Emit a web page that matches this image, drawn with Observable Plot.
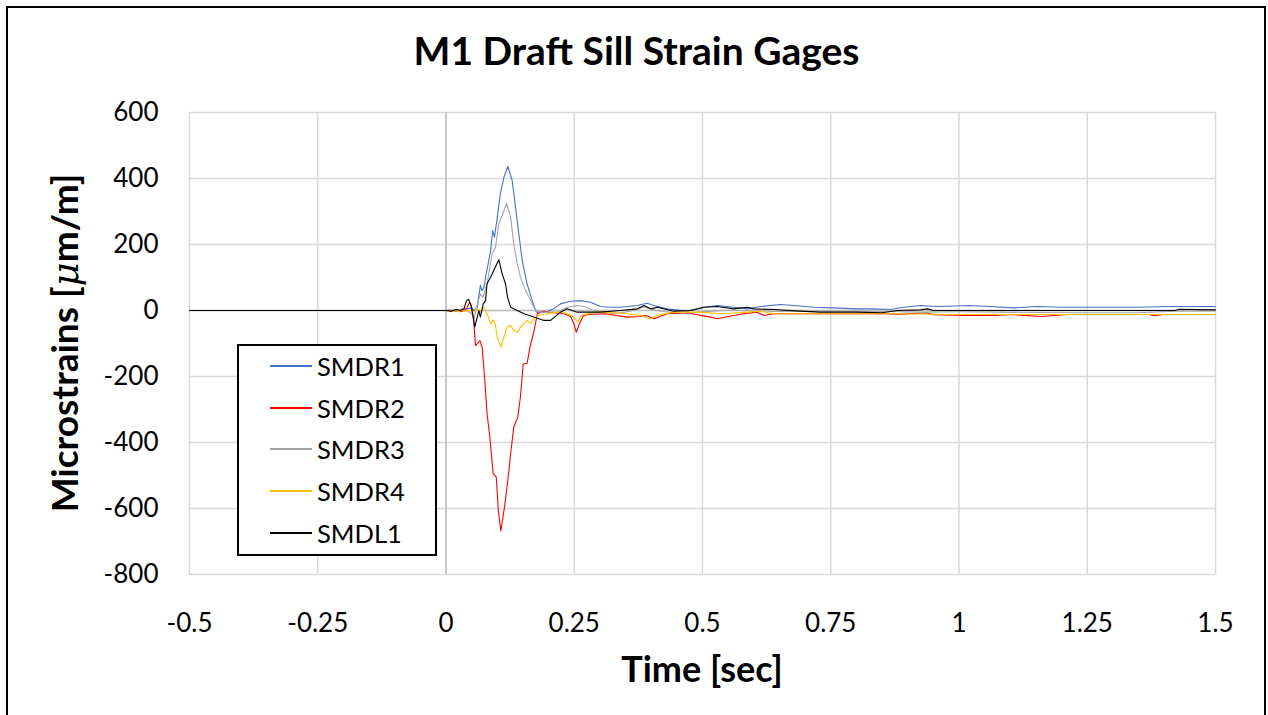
<!DOCTYPE html>
<html>
<head>
<meta charset="utf-8">
<script src="https://cdn.jsdelivr.net/npm/d3@7"></script>
<script src="https://cdn.jsdelivr.net/npm/@observablehq/plot@0.6"></script>
<style>
  html, body { margin: 0; padding: 0; background: #fff; }
  body { width: 1268px; height: 715px; overflow: hidden; position: relative; font-family: Lato, "Liberation Sans", sans-serif; }
  #frame { position: absolute; left: 6px; top: 6px; width: 1256px; height: 740px; border: 2px solid #000; box-sizing: content-box; }
  #title { position: absolute; left: 0; top: 27px; width: 1273px; text-align: center; font-weight: 700; font-size: 39px; line-height: 46px; color: #000; }
  #chart { position: absolute; left: 0; top: 90px; }
  #xlabel { position: absolute; left: 0; width: 1404px; top: 646px; text-align: center; font-weight: 700; font-size: 36px; line-height: 44px; }
  #ylabel { position: absolute; width: 500px; left: -186px; top: 321px; text-align: center; font-weight: 700; font-size: 37px; line-height: 44px; transform: rotate(-90deg); transform-origin: 250px 22px; white-space: nowrap; }
  #legend { position: absolute; left: 237px; top: 344px; width: 196px; height: 208px; border: 2px solid #000; background: #fff; }
  .row { position: absolute; left: 0; height: 30px; display: flex; align-items: center; }
  .row .sw { width: 42px; height: 2px; margin-left: 31px; margin-right: 5px; }
  .row span { font-size: 25.5px; color: #000; }
</style>
</head>
<body>
<div id="frame"></div>
<div id="title">M1 Draft Sill Strain Gages</div>
<div id="chart"></div>
<div id="xlabel">Time [sec]</div>
<div id="ylabel">Microstrains [<i style="font-family:'DejaVu Serif',serif;font-weight:400">μ</i>m/m]</div>
<div id="legend"></div>
<script>
const seriesNames = ["SMDR1", "SMDR2", "SMDR3", "SMDR4", "SMDL1"];
const seriesColors = ["#4472c4", "#ff0000", "#a5a5a5", "#ffc000", "#000000"];
const xTicks = [-0.5, -0.25, 0, 0.25, 0.5, 0.75, 1, 1.25, 1.5];
const yTicks = [-800, -600, -400, -200, 0, 200, 400, 600];

// [time (s), microstrain]
const smdr1 = [[-0.5,0],[0,0],[0.01,3],[0.02,-3],[0.03,4],[0.04,5],[0.05,8],[0.055,0],[0.061,10],[0.067,76],[0.070,60],[0.074,70],[0.077,100],[0.082,140],[0.087,182],[0.091,242],[0.0945,222],[0.100,283],[0.106,354],[0.113,404],[0.1205,437],[0.129,394],[0.1355,313],[0.142,232],[0.1485,152],[0.158,81],[0.168,30],[0.176,-5],[0.187,-5],[0.197,-3],[0.21,5],[0.223,20],[0.243,28],[0.262,30],[0.282,25],[0.301,12],[0.32,10],[0.34,10],[0.373,15],[0.392,22],[0.405,15],[0.431,5],[0.47,-2],[0.503,10],[0.529,15],[0.561,10],[0.587,5],[0.613,12],[0.652,18],[0.678,15],[0.717,10],[0.756,8],[0.80,5],[0.83,5],[0.866,3],[0.892,10],[0.925,15],[0.958,12],[1.022,15],[1.06,12],[1.107,8],[1.152,12],[1.20,10],[1.347,10],[1.412,12],[1.5,12]];
const smdr2 = [[-0.5,0],[0,0],[0.01,-2],[0.02,3],[0.03,-3],[0.04,5],[0.046,25],[0.05,10],[0.054,-30],[0.0575,-106],[0.061,-101],[0.066,-91],[0.0705,-111],[0.0757,-212],[0.080,-313],[0.0855,-384],[0.092,-495],[0.098,-505],[0.102,-606],[0.107,-668],[0.114,-596],[0.1205,-515],[0.126,-434],[0.132,-354],[0.14,-323],[0.145,-263],[0.1505,-162],[0.158,-160],[0.165,-101],[0.171,-66],[0.178,-10],[0.19,-2],[0.2,-5],[0.23,-10],[0.243,-18],[0.249,-40],[0.254,-66],[0.26,-40],[0.268,-15],[0.28,-12],[0.31,-10],[0.353,-20],[0.379,-18],[0.39,-15],[0.405,-25],[0.431,-10],[0.45,-8],[0.48,-10],[0.516,-20],[0.529,-25],[0.55,-18],[0.58,-10],[0.606,-5],[0.62,-15],[0.64,-10],[0.70,-10],[0.86,-10],[0.88,-12],[0.938,-7],[0.95,-13],[1.01,-15],[1.07,-15],[1.1,-12],[1.16,-18],[1.21,-12],[1.29,-12],[1.37,-12],[1.38,-16],[1.4,-12],[1.5,-12]];
const smdr3 = [[-0.5,0],[0,0],[0.01,2],[0.02,-2],[0.03,3],[0.04,0],[0.05,-10],[0.055,-25],[0.061,20],[0.067,50],[0.072,40],[0.080,81],[0.090,172],[0.0965,192],[0.103,263],[0.1095,288],[0.118,325],[0.126,283],[0.132,202],[0.139,141],[0.145,101],[0.155,61],[0.165,30],[0.1745,0],[0.184,-5],[0.217,-5],[0.236,10],[0.256,15],[0.27,12],[0.288,0],[0.327,-10],[0.35,-5],[0.386,10],[0.42,-3],[0.46,-8],[0.49,-5],[0.54,0],[0.6,0],[0.64,-3],[0.70,-3],[0.76,-2],[0.86,-3],[0.92,-5],[1.0,-4],[1.15,-6],[1.25,-7],[1.35,-7],[1.42,-2],[1.5,-1]];
const smdr4 = [[-0.5,0],[0,0],[0.005,-3],[0.01,3],[0.015,-4],[0.02,2],[0.025,-5],[0.03,4],[0.035,-3],[0.04,0],[0.048,0],[0.055,-5],[0.06,5],[0.067,-5],[0.074,10],[0.08,-10],[0.087,-40],[0.092,-30],[0.096,-40],[0.1,-81],[0.107,-111],[0.113,-81],[0.119,-50],[0.126,-45],[0.132,-61],[0.14,-66],[0.145,-50],[0.152,-40],[0.158,-30],[0.165,-40],[0.171,-25],[0.181,-15],[0.197,-10],[0.217,-5],[0.235,-8],[0.249,-20],[0.256,-35],[0.262,-20],[0.268,-12],[0.295,-5],[0.31,-5],[0.353,-10],[0.379,-15],[0.399,-25],[0.41,-15],[0.444,-5],[0.49,-5],[0.54,-10],[0.587,-5],[0.613,-2],[0.64,-10],[0.70,-10],[0.86,-10],[1.0,-12],[1.5,-12]];
const smdl1 = [[-0.5,0],[0,0],[0.01,-2],[0.02,3],[0.028,0],[0.035,5],[0.040,30],[0.044,34],[0.049,15],[0.053,-20],[0.056,-50],[0.061,-20],[0.064,0],[0.067,-20],[0.0725,20],[0.077,30],[0.080,81],[0.087,101],[0.093,121],[0.103,154],[0.1095,111],[0.116,81],[0.120,40],[0.126,10],[0.139,0],[0.152,-10],[0.171,-20],[0.191,-30],[0.204,-30],[0.223,-5],[0.236,5],[0.256,-5],[0.30,-5],[0.34,0],[0.373,5],[0.386,15],[0.399,5],[0.412,10],[0.444,-2],[0.477,0],[0.503,10],[0.529,12],[0.561,5],[0.587,10],[0.6,5],[0.64,3],[0.691,-2],[0.73,-5],[0.80,-5],[0.85,-7],[0.88,0],[0.925,2],[0.938,5],[0.95,0],[1.1,0],[1.3,0],[1.42,0],[1.43,4],[1.5,2]];

const allSeries = [smdr1, smdr2, smdr3, smdr4, smdl1];
const fmt = d => String(d);

const chart = Plot.plot({
  width: 1268,
  height: 625,
  marginLeft: 189,
  marginRight: 53,
  marginTop: 22,
  marginBottom: 141,
  style: { fontFamily: "Lato, 'Liberation Sans', sans-serif", fontSize: "26px", color: "#000", background: "transparent", overflow: "visible" },
  x: { domain: [-0.5, 1.5], label: null },
  y: { domain: [-800, 600], label: null },
  marks: [
    Plot.gridX(xTicks, { stroke: "#d9d9d9", strokeOpacity: 1, strokeWidth: 1.5 }),
    Plot.gridY(yTicks, { stroke: "#d9d9d9", strokeOpacity: 1, strokeWidth: 1.5 }),
    Plot.ruleX([0], { stroke: "#bfbfbf", strokeWidth: 1.5 }),
    Plot.ruleY([0], { stroke: "#bfbfbf", strokeWidth: 1.5 }),
    ...allSeries.map((s, i) => Plot.line(s, { x: d => d[0], y: d => d[1], stroke: seriesColors[i], strokeWidth: 1.1 })),
    Plot.axisX(xTicks, { tickSize: 0, tickPadding: 39, tickFormat: fmt, label: null }),
    Plot.axisY(yTicks, { tickSize: 0, tickPadding: 31, tickFormat: fmt, label: null })
  ]
});
document.getElementById("chart").appendChild(chart);

const legend = document.getElementById("legend");
seriesNames.forEach((name, i) => {
  const row = document.createElement("div");
  row.className = "row";
  row.style.top = Math.round(5 + i * 41.7) + "px";
  const sw = document.createElement("div");
  sw.className = "sw";
  sw.style.background = seriesColors[i];
  const label = document.createElement("span");
  label.textContent = name;
  row.appendChild(sw);
  row.appendChild(label);
  legend.appendChild(row);
});
</script>
</body>
</html>
